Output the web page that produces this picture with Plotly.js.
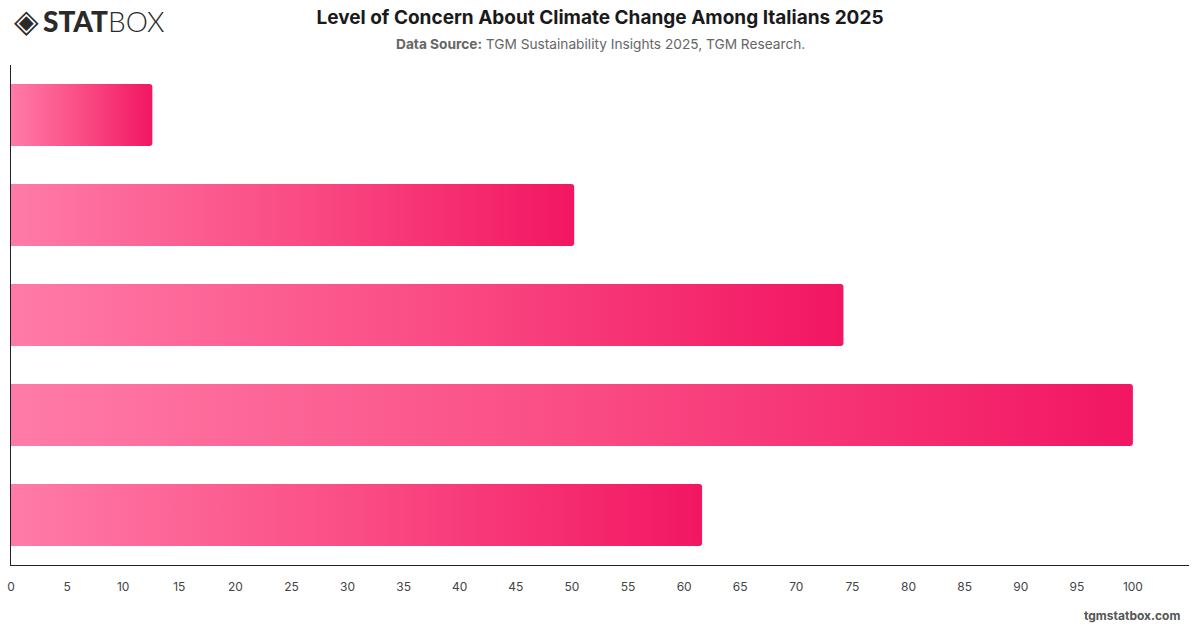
<!DOCTYPE html>
<html>
<head>
<meta charset="utf-8">
<script src="https://cdn.plot.ly/plotly-3.0.1.min.js"></script>
<style>
  html, body { margin: 0; padding: 0; background: #fff; }
  #chart { width: 1200px; height: 628px; }
</style>
</head>
<body>
<div id="chart"></div>
<script>
// Data (top to bottom)
const categories = ["Level 1", "Level 2", "Level 3", "Level 4", "Level 5"];
const values = [12.6, 50.2, 74.2, 100, 61.6];
const tickValues = [0, 5, 10, 15, 20, 25, 30, 35, 40, 45, 50, 55, 60, 65, 70, 75, 80, 85, 90, 95, 100];

const FONT = "Inter, 'Noto Sans', 'DejaVu Sans', sans-serif";

const trace = {
  type: "bar",
  orientation: "h",
  y: categories,
  x: values,
  width: 0.62,
  marker: { color: "#f5236e", cornerradius: 3, line: { width: 0 } },
  hoverinfo: "x"
};

const layout = {
  width: 1200,
  height: 628,
  margin: { l: 11, r: 11, t: 65, b: 63 },
  paper_bgcolor: "#ffffff",
  plot_bgcolor: "#ffffff",
  showlegend: false,
  font: { family: FONT, color: "#444" },
  title: {
    text: "<b>Level of Concern About Climate Change Among Italians 2025</b>",
    x: 0.5, xanchor: "center",
    y: 0.973, yanchor: "middle",
    font: { family: FONT, size: 19, color: "#1a1a1a" }
  },
  xaxis: {
    range: [0, 105],
    tickvals: tickValues,
    ticktext: tickValues.map(String),
    showgrid: false,
    zeroline: false,
    showline: true,
    linecolor: "#222",
    linewidth: 1,
    ticks: "outside",
    ticklen: 11,
    tickcolor: "rgba(0,0,0,0)",
    tickfont: { family: FONT, size: 12, color: "#444" },
    fixedrange: true
  },
  yaxis: {
    categoryorder: "array",
    categoryarray: categories,
    autorange: "reversed",
    showticklabels: false,
    showgrid: false,
    zeroline: false,
    showline: true,
    linecolor: "#222",
    linewidth: 1,
    ticks: "",
    fixedrange: true
  },
  annotations: [
    {
      text: "<b>Data Source:</b> TGM Sustainability Insights 2025, TGM Research.",
      xref: "paper", yref: "paper",
      x: 0.5, xanchor: "center",
      y: 1 + (65 - 44) / 500, yanchor: "middle",
      showarrow: false,
      font: { family: FONT, size: 13.7, color: "#666" }
    },
    {
      text: "<b>tgmstatbox.com</b>",
      xref: "paper", yref: "paper",
      x: 1 - 7 / 1178, xanchor: "right",
      y: -(615 - 565) / 500, yanchor: "middle",
      showarrow: false,
      font: { family: FONT, size: 12, color: "#555" }
    },
    {
      text: "◈",
      xref: "paper", yref: "paper",
      x: (12 - 11) / 1178, xanchor: "left",
      y: 1 + (65 - 21) / 500, yanchor: "middle",
      showarrow: false,
      font: { family: "'DejaVu Sans', sans-serif", size: 32, color: "#2a2a2a" }
    },
    {
      text: "<span style=\"font-weight:900\">STAT</span><span style=\"font-weight:300\">BOX</span>",
      xref: "paper", yref: "paper",
      x: (41 - 11) / 1178, xanchor: "left",
      y: 1 + (65 - 21) / 500, yanchor: "middle",
      showarrow: false,
      font: { family: "Lato, 'Liberation Sans', sans-serif", size: 28, color: "#2a2a2a" }
    }
  ]
};

function applyGradient(gd) {
  const ns = "http://www.w3.org/2000/svg";
  const svg = gd.querySelector("svg.main-svg");
  if (!svg) return;
  if (!svg.querySelector("#barGrad")) {
    let defs = svg.querySelector("defs");
    if (!defs) { defs = document.createElementNS(ns, "defs"); svg.insertBefore(defs, svg.firstChild); }
    const grad = document.createElementNS(ns, "linearGradient");
    grad.setAttribute("id", "barGrad");
    grad.setAttribute("x1", "0"); grad.setAttribute("y1", "0");
    grad.setAttribute("x2", "1"); grad.setAttribute("y2", "0");
    [["0%", "#ff7ba7"], ["50%", "#fa4c85"], ["100%", "#f21662"]].forEach(function (s) {
      const st = document.createElementNS(ns, "stop");
      st.setAttribute("offset", s[0]);
      st.setAttribute("stop-color", s[1]);
      grad.appendChild(st);
    });
    defs.appendChild(grad);
  }
  gd.querySelectorAll("g.bars path, g.point path").forEach(function (p) {
    p.style.setProperty("fill", "url(#barGrad)", "important");
    p.setAttribute("fill", "url(#barGrad)");
  });
}

const gd = document.getElementById("chart");
const pr = Plotly.newPlot(gd, [trace], layout, { displayModeBar: false, staticPlot: true });
applyGradient(gd);
if (pr && pr.then) pr.then(function () { applyGradient(gd); });
gd.on && gd.on("plotly_afterplot", function () { applyGradient(gd); });
setTimeout(function () { applyGradient(gd); }, 50);
</script>
</body>
</html>
